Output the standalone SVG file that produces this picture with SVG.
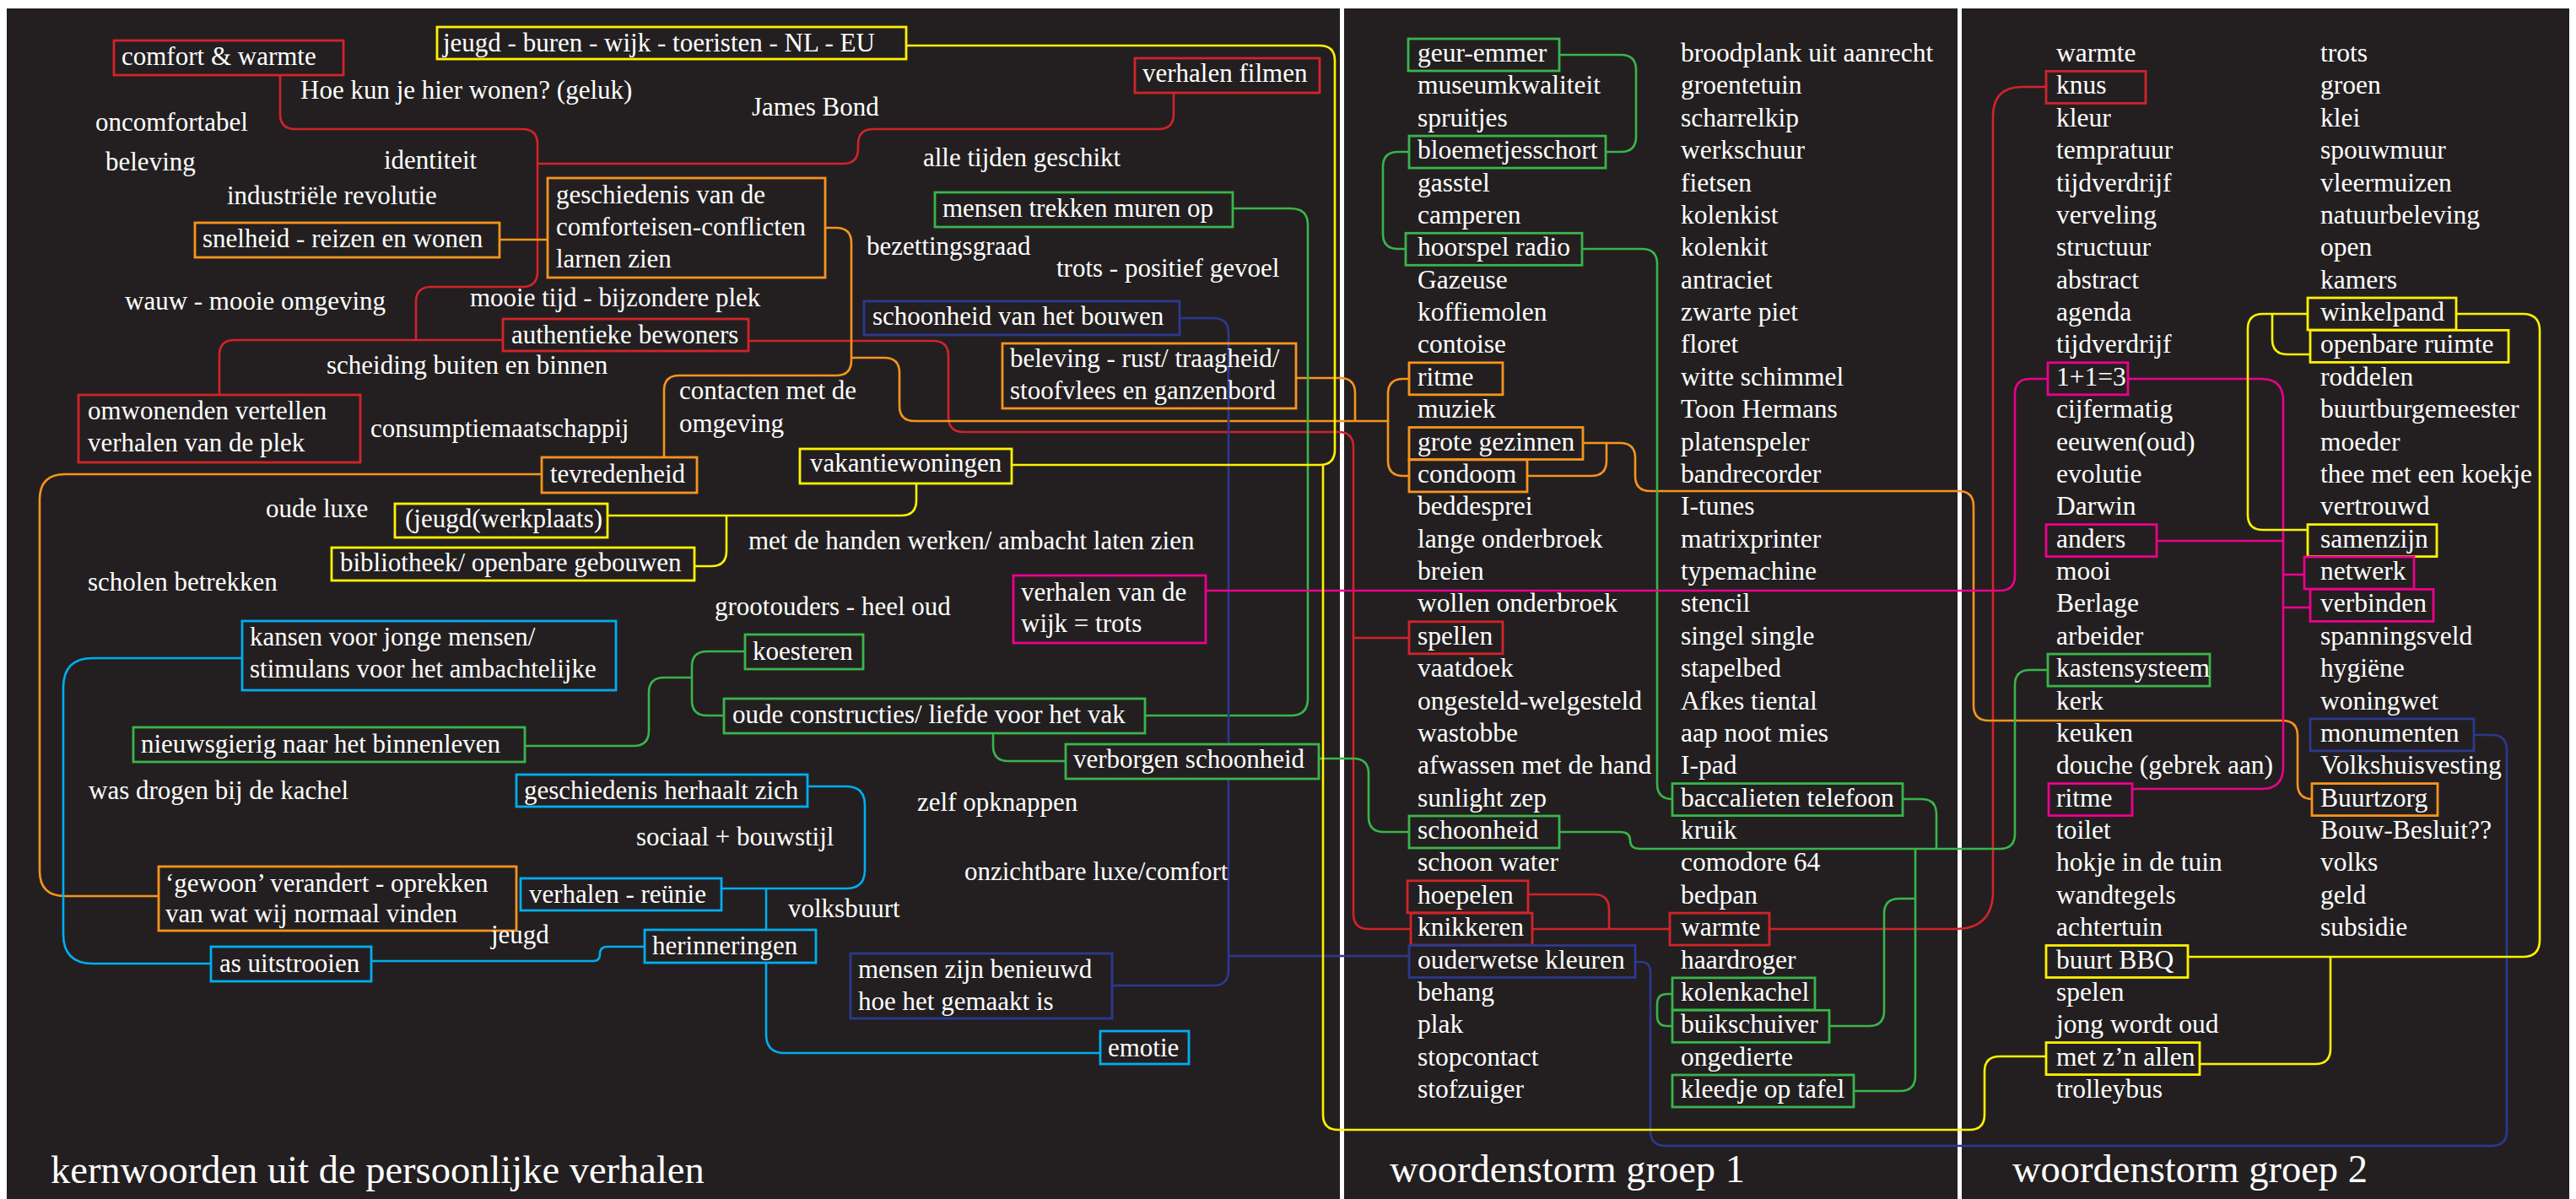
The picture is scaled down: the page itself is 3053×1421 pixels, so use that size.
<svg xmlns="http://www.w3.org/2000/svg" width="3053" height="1421" viewBox="0 0 3053 1421">
<style>
text{font-family:"Liberation Serif","Times New Roman",serif;fill:#ffffff}
.l{font-size:31px}
.w{font-size:31.5px}
.h{font-size:46.5px}
.bx{fill:#231f20;stroke-width:2.8}
.bn{fill:none;stroke-width:2.8}
.c{fill:none;stroke-width:2.6}
.red{stroke:#d2232a}.org{stroke:#f7941d}.yel{stroke:#fff200}.grn{stroke:#39b54a}.lbl{stroke:#00aeef}.dbl{stroke:#2b3990}.mag{stroke:#ec008c}
</style>
<rect x="0" y="0" width="3053" height="1421" fill="#ffffff"/>
<rect x="8" y="10" width="3037" height="1411" fill="#231f20"/>
<rect x="1588" y="10" width="5" height="1411" fill="#ffffff"/>
<rect x="2320" y="10" width="5" height="1411" fill="#ffffff"/>

<g id="connectors">
<!-- red -->
<path class="c red" d="M332,89 V135 Q332,153 350,153 H619 Q637,153 637,171 V322 Q637,340 619,340 H511 Q493,340 493,358 V403"/>
<path class="c red" d="M637,194 H999 Q1017,194 1017,176 V171 Q1017,153 1035,153 H1373 Q1391,153 1391,135 V110"/>
<path class="c red" d="M260,468 V421 Q260,403 278,403 H596"/>
<path class="c red" d="M887,404 H1106 Q1124,404 1124,422 V494 Q1124,512 1142,512 H1586 Q1604,512 1604,530 V1083 Q1604,1101 1622,1101 H1672"/>
<path class="c red" d="M1604,756 H1670"/>
<path class="c red" d="M1811,1060 H1889 Q1907,1060 1907,1078 V1101"/>
<path class="c red" d="M1816,1101 H1979"/>
<path class="c red" d="M2097,1101 H2317 Q2362,1101 2362,1056 V138 Q2362,103 2397,103 H2425"/>
<!-- orange -->
<path class="c org" d="M592,284 H649"/>
<path class="c org" d="M978,270 H991 Q1009,270 1009,288 V427 Q1009,445 991,445 H805 Q787,445 787,463 V542"/>
<path class="c org" d="M1009,424 H1048 Q1066,424 1066,442 V481 Q1066,499 1084,499 H1645"/>
<path class="c org" d="M1536,448 H1588 Q1606,448 1606,466 V499"/>
<path class="c org" d="M1670,449 H1663 Q1645,449 1645,467 V546 Q1645,564 1663,564 H1670"/>
<path class="c org" d="M1876,525 H1920 Q1938,525 1938,543 V564 Q1938,582 1956,582 H2321 Q2339,582 2339,600 V836 Q2339,854 2357,854 H2705 Q2723,854 2723,872 V929 Q2723,947 2741,947"/>
<path class="c org" d="M1904,525 V546 Q1904,564 1886,564 H1810"/>
<path class="c org" d="M642,562 H77 Q47,562 47,592 V1032 Q47,1062 77,1062 H188"/>
<!-- light blue -->
<path class="c lbl" d="M287,780 H110 Q75,780 75,815 V1107 Q75,1142 110,1142 H250"/>
<path class="c lbl" d="M440,1139 H703 Q711,1139 711,1131 Q711,1122 719,1122 H764"/>
<path class="c lbl" d="M957,932 H1003 Q1025,932 1025,954 V1031 Q1025,1053 1003,1053 H855"/>
<path class="c lbl" d="M908,1053 V1102"/>
<path class="c lbl" d="M908,1141 V1226 Q908,1248 930,1248 H1304"/>
<!-- green -->
<path class="c grn" d="M622,884 H751 Q769,884 769,866 V821 Q769,803 787,803 H820"/>
<path class="c grn" d="M883,772 H838 Q820,772 820,790 V830 Q820,848 838,848 H858"/>
<path class="c grn" d="M1357,848 H1530 Q1550,848 1550,828 V267 Q1550,247 1530,247 H1461"/>
<path class="c grn" d="M1177,869 V884 Q1177,902 1195,902 H1263"/>
<path class="c grn" d="M1563,899 H1604 Q1622,899 1622,917 V968 Q1622,986 1640,986 H1670"/>
<path class="c grn" d="M1848,65 H1921 Q1939,65 1939,83 V162 Q1939,180 1921,180 H1903"/>
<path class="c grn" d="M1670,180 H1657 Q1639,180 1639,198 V277 Q1639,295 1657,295 H1666"/>
<path class="c grn" d="M1875,295 H1946 Q1964,295 1964,313 V929 Q1964,947 1982,947"/>
<path class="c grn" d="M2255,947 H2277 Q2295,947 2295,965 V1006"/>
<path class="c grn" d="M1848,986 H1920 Q1932,986 1932,996 Q1932,1006 1944,1006 H2370 Q2388,1006 2388,988 V812 Q2388,794 2406,794 H2427"/>
<path class="c grn" d="M2270,1006 V1275 Q2270,1293 2252,1293 H2197"/>
<path class="c grn" d="M2270,1065 H2251 Q2233,1065 2233,1083 V1198 Q2233,1216 2215,1216 H2168"/>
<path class="c grn" d="M1982,1178 H1976 Q1964,1178 1964,1190 V1204 Q1964,1216 1976,1216 H1982"/>
<!-- dark blue -->
<path class="c dbl" d="M1398,377 H1438 Q1456,377 1456,395 V1150 Q1456,1168 1438,1168 H1318"/>
<path class="c dbl" d="M1456,1133 H1670"/>
<path class="c dbl" d="M1938,1140 H1944 Q1956,1140 1956,1152 V1340 Q1956,1358 1974,1358 H2953 Q2971,1358 2971,1340 V889 Q2971,871 2953,871 H2932"/>
<!-- magenta -->
<path class="c mag" d="M1429,700 H2370 Q2388,700 2388,682 V467 Q2388,449 2406,449 H2427"/>
<path class="c mag" d="M2522,449 H2680 Q2706,449 2706,475 V909 Q2706,935 2680,935 H2527"/>
<path class="c mag" d="M2556,641 H2706"/>
<path class="c mag" d="M2706,681 H2731"/>
<path class="c mag" d="M2706,720 H2738"/>
<!-- yellow -->
<path class="c yel" d="M1074,54 H1564 Q1582,54 1582,72 V533 Q1582,551 1564,551 H1199"/>
<path class="c yel" d="M1568,551 V1321 Q1568,1339 1586,1339 H2334 Q2352,1339 2352,1321 V1270 Q2352,1252 2370,1252 H2425"/>
<path class="c yel" d="M1086,573 V593 Q1086,611 1068,611 H720"/>
<path class="c yel" d="M861,611 V653 Q861,671 843,671 H823"/>
<path class="c yel" d="M2735,372 H2682 Q2664,372 2664,390 V610 Q2664,628 2682,628 H2735"/>
<path class="c yel" d="M2693,372 V402 Q2693,420 2711,420 H2738"/>
<path class="c yel" d="M2911,372 H2990 Q3010,372 3010,392 V1114 Q3010,1134 2990,1134 H2593"/>
<path class="c yel" d="M2762,1134 V1243 Q2762,1261 2744,1261 H2607"/>
</g>

<!-- ===== left panel boxed nodes ===== -->
<g id="n-comfort"><rect class="bx red" x="135" y="48" width="272" height="41"/><text class="l" x="144" y="77">comfort &amp; warmte</text></g>
<g id="n-jeugd-buren"><rect class="bx yel" x="518" y="32" width="556" height="38"/><text class="l" x="525" y="61">jeugd - buren - wijk - toeristen - NL - EU</text></g>
<g id="n-verhalen-filmen"><rect class="bx red" x="1345" y="69" width="219" height="41"/><text class="l" x="1354" y="97">verhalen filmen</text></g>
<g id="n-snelheid"><rect class="bx org" x="231" y="264" width="361" height="41"/><text class="l" x="240" y="293">snelheid - reizen en wonen</text></g>
<g id="n-geschiedenis"><rect class="bx org" x="649" y="211" width="329" height="118"/><text class="l" x="659" y="241">geschiedenis van de</text><text class="l" x="659" y="279">comforteisen-conflicten</text><text class="l" x="659" y="317">larnen zien</text></g>
<g id="n-mensen-trekken"><rect class="bx grn" x="1108" y="228" width="353" height="41"/><text class="l" x="1117" y="257">mensen trekken muren op</text></g>
<g id="n-schoonheid-bouwen"><rect class="bx dbl" x="1024" y="357" width="374" height="40"/><text class="l" x="1034" y="385">schoonheid van het bouwen</text></g>
<g id="n-authentieke"><rect class="bx red" x="596" y="378" width="291" height="38"/><text class="l" x="606" y="407">authentieke bewoners</text></g>
<g id="n-beleving-rust"><rect class="bn org" x="1188" y="407" width="348" height="77"/><text class="l" x="1197" y="435">beleving - rust/ traagheid/</text><text class="l" x="1197" y="473">stoofvlees en ganzenbord</text></g>
<g id="n-omwonenden"><rect class="bx red" x="93" y="468" width="334" height="80"/><text class="l" x="104" y="497">omwonenden vertellen</text><text class="l" x="104" y="535">verhalen van de plek</text></g>
<g id="n-tevredenheid"><rect class="bx org" x="642" y="542" width="184" height="42"/><text class="l" x="652" y="572">tevredenheid</text></g>
<g id="n-vakantiewoningen"><rect class="bx yel" x="948" y="532" width="251" height="41"/><text class="l" x="960" y="559">vakantiewoningen</text></g>
<g id="n-jeugdwerkplaats"><rect class="bx yel" x="468" y="597" width="252" height="40"/><text class="l" x="480" y="625">(jeugd(werkplaats)</text></g>
<g id="n-bibliotheek"><rect class="bx yel" x="393" y="649" width="430" height="39"/><text class="l" x="403" y="677">bibliotheek/ openbare gebouwen</text></g>
<g id="n-verhalen-wijk"><rect class="bx mag" x="1201" y="682" width="228" height="80"/><text class="l" x="1210" y="712">verhalen van de</text><text class="l" x="1210" y="749">wijk = trots</text></g>
<g id="n-kansen"><rect class="bx lbl" x="287" y="736" width="443" height="82"/><text class="l" x="296" y="765">kansen voor jonge mensen/</text><text class="l" x="296" y="803">stimulans voor het ambachtelijke</text></g>
<g id="n-koesteren"><rect class="bx grn" x="883" y="752" width="140" height="41"/><text class="l" x="892" y="782">koesteren</text></g>
<g id="n-oude-constructies"><rect class="bx grn" x="858" y="828" width="499" height="41"/><text class="l" x="868" y="857">oude constructies/ liefde voor het vak</text></g>
<g id="n-nieuwsgierig"><rect class="bx grn" x="158" y="862" width="464" height="41"/><text class="l" x="167" y="892">nieuwsgierig naar het binnenleven</text></g>
<g id="n-verborgen"><rect class="bx grn" x="1263" y="882" width="300" height="41"/><text class="l" x="1272" y="910">verborgen schoonheid</text></g>
<g id="n-geschiedenis-herhaalt"><rect class="bx lbl" x="612" y="918" width="345" height="38"/><text class="l" x="621" y="947">geschiedenis herhaalt zich</text></g>
<g id="n-gewoon"><rect class="bx org" x="188" y="1027" width="424" height="76"/><text class="l" x="196" y="1057">‘gewoon’ verandert - oprekken</text><text class="l" x="196" y="1093">van wat wij normaal vinden</text></g>
<g id="n-reunie"><rect class="bx lbl" x="617" y="1041" width="238" height="38"/><text class="l" x="627" y="1070">verhalen - reünie</text></g>
<g id="n-herinneringen"><rect class="bx lbl" x="764" y="1102" width="203" height="39"/><text class="l" x="773" y="1131">herinneringen</text></g>
<g id="n-as"><rect class="bx lbl" x="250" y="1122" width="190" height="41"/><text class="l" x="260" y="1152">as uitstrooien</text></g>
<g id="n-benieuwd"><rect class="bx dbl" x="1008" y="1130" width="310" height="77"/><text class="l" x="1017" y="1159">mensen zijn benieuwd</text><text class="l" x="1017" y="1197">hoe het gemaakt is</text></g>
<g id="n-emotie"><rect class="bx lbl" x="1304" y="1222" width="105" height="39"/><text class="l" x="1313" y="1252">emotie</text></g>

<!-- ===== left panel words ===== -->
<g id="words-left">
<text class="l" x="356" y="117">Hoe kun je hier wonen? (geluk)</text>
<text class="l" x="113" y="155">oncomfortabel</text>
<text class="l" x="891" y="137">James Bond</text>
<text class="l" x="125" y="202">beleving</text>
<text class="l" x="455" y="200">identiteit</text>
<text class="l" x="1094" y="197">alle tijden geschikt</text>
<text class="l" x="269" y="242">industriële revolutie</text>
<text class="l" x="1027" y="302">bezettingsgraad</text>
<text class="l" x="1252" y="328">trots - positief gevoel</text>
<text class="l" x="148" y="367">wauw - mooie omgeving</text>
<text class="l" x="557" y="363">mooie tijd - bijzondere plek</text>
<text class="l" x="387" y="443">scheiding buiten en binnen</text>
<text class="l" x="805" y="473">contacten met de</text>
<text class="l" x="805" y="512">omgeving</text>
<text class="l" x="439" y="518">consumptiemaatschappij</text>
<text class="l" x="315" y="613">oude luxe</text>
<text class="l" x="887" y="651">met de handen werken/ ambacht laten zien</text>
<text class="l" x="104" y="700">scholen betrekken</text>
<text class="l" x="847" y="729">grootouders - heel oud</text>
<text class="l" x="105" y="947">was drogen bij de kachel</text>
<text class="l" x="1087" y="961">zelf opknappen</text>
<text class="l" x="754" y="1002">sociaal + bouwstijl</text>
<text class="l" x="1143" y="1043">onzichtbare luxe/comfort</text>
<text class="l" x="934" y="1087">volksbuurt</text>
<text class="l" x="582" y="1118">jeugd</text>
</g>

<!-- ===== middle panel boxed nodes ===== -->
<g id="n-geur-emmer"><rect class="bx grn" x="1669" y="46" width="179" height="38"/><text class="w" x="1680" y="73">geur-emmer</text></g>
<g id="n-bloemetjesschort"><rect class="bx grn" x="1670" y="161.1" width="233" height="38"/><text class="w" x="1680" y="188.1">bloemetjesschort</text></g>
<g id="n-hoorspel"><rect class="bx grn" x="1666" y="276.3" width="209" height="38"/><text class="w" x="1680" y="303.3">hoorspel radio</text></g>
<g id="n-ritme1"><rect class="bx org" x="1670" y="429.8" width="111" height="38"/><text class="w" x="1680" y="456.8">ritme</text></g>
<g id="n-grote-gezinnen"><rect class="bx org" x="1670" y="506.5" width="206" height="38"/><text class="w" x="1680" y="533.5">grote gezinnen</text></g>
<g id="n-condoom"><rect class="bx org" x="1670" y="544.9" width="140" height="38"/><text class="w" x="1680" y="571.9">condoom</text></g>
<g id="n-spellen"><rect class="bx red" x="1670" y="736.8" width="111" height="38"/><text class="w" x="1680" y="763.8">spellen</text></g>
<g id="n-schoonheid"><rect class="bx grn" x="1670" y="967" width="178" height="38"/><text class="w" x="1680" y="994">schoonheid</text></g>
<g id="n-hoepelen"><rect class="bx red" x="1668" y="1043.8" width="143" height="38"/><text class="w" x="1680" y="1070.8">hoepelen</text></g>
<g id="n-knikkeren"><rect class="bx red" x="1672" y="1082.1" width="144" height="38"/><text class="w" x="1680" y="1109.1">knikkeren</text></g>
<g id="n-ouderwetse"><rect class="bx dbl" x="1670" y="1120.5" width="268" height="38"/><text class="w" x="1680" y="1147.5">ouderwetse kleuren</text></g>
<g id="n-baccalieten"><rect class="bx grn" x="1982" y="928.6" width="273" height="38"/><text class="w" x="1992" y="955.6">baccalieten telefoon</text></g>
<g id="n-warmte1"><rect class="bx red" x="1979" y="1082.1" width="118" height="38"/><text class="w" x="1992" y="1109.1">warmte</text></g>
<g id="n-kolenkachel"><rect class="bx grn" x="1982" y="1158.9" width="169" height="38"/><text class="w" x="1992" y="1185.9">kolenkachel</text></g>
<g id="n-buikschuiver"><rect class="bx grn" x="1982" y="1197.3" width="186" height="38"/><text class="w" x="1992" y="1224.3">buikschuiver</text></g>
<g id="n-kleedje"><rect class="bx grn" x="1982" y="1274" width="215" height="38"/><text class="w" x="1992" y="1301">kleedje op tafel</text></g>

<g id="words-group1">
<text class="w" x="1680" y="111.4">museumkwaliteit</text>
<text class="w" x="1680" y="149.8">spruitjes</text>
<text class="w" x="1680" y="226.5">gasstel</text>
<text class="w" x="1680" y="264.9">camperen</text>
<text class="w" x="1680" y="341.6">Gazeuse</text>
<text class="w" x="1680" y="380">koffiemolen</text>
<text class="w" x="1680" y="418.4">contoise</text>
<text class="w" x="1680" y="495.1">muziek</text>
<text class="w" x="1680" y="610.3">beddesprei</text>
<text class="w" x="1680" y="648.6">lange onderbroek</text>
<text class="w" x="1680" y="687">breien</text>
<text class="w" x="1680" y="725.4">wollen onderbroek</text>
<text class="w" x="1680" y="802.1">vaatdoek</text>
<text class="w" x="1680" y="840.5">ongesteld-welgesteld</text>
<text class="w" x="1680" y="878.9">wastobbe</text>
<text class="w" x="1680" y="917.3">afwassen met de hand</text>
<text class="w" x="1680" y="955.6">sunlight zep</text>
<text class="w" x="1680" y="1032.4">schoon water</text>
<text class="w" x="1680" y="1185.9">behang</text>
<text class="w" x="1680" y="1224.3">plak</text>
<text class="w" x="1680" y="1262.6">stopcontact</text>
<text class="w" x="1680" y="1301">stofzuiger</text>
<text class="w" x="1992" y="73">broodplank uit aanrecht</text>
<text class="w" x="1992" y="111.4">groentetuin</text>
<text class="w" x="1992" y="149.8">scharrelkip</text>
<text class="w" x="1992" y="188.1">werkschuur</text>
<text class="w" x="1992" y="226.5">fietsen</text>
<text class="w" x="1992" y="264.9">kolenkist</text>
<text class="w" x="1992" y="303.3">kolenkit</text>
<text class="w" x="1992" y="341.6">antraciet</text>
<text class="w" x="1992" y="380">zwarte piet</text>
<text class="w" x="1992" y="418.4">floret</text>
<text class="w" x="1992" y="456.8">witte schimmel</text>
<text class="w" x="1992" y="495.1">Toon Hermans</text>
<text class="w" x="1992" y="533.5">platenspeler</text>
<text class="w" x="1992" y="571.9">bandrecorder</text>
<text class="w" x="1992" y="610.3">I-tunes</text>
<text class="w" x="1992" y="648.6">matrixprinter</text>
<text class="w" x="1992" y="687">typemachine</text>
<text class="w" x="1992" y="725.4">stencil</text>
<text class="w" x="1992" y="763.8">singel single</text>
<text class="w" x="1992" y="802.1">stapelbed</text>
<text class="w" x="1992" y="840.5">Afkes tiental</text>
<text class="w" x="1992" y="878.9">aap noot mies</text>
<text class="w" x="1992" y="917.3">I-pad</text>
<text class="w" x="1992" y="994">kruik</text>
<text class="w" x="1992" y="1032.4">comodore 64</text>
<text class="w" x="1992" y="1070.8">bedpan</text>
<text class="w" x="1992" y="1147.5">haardroger</text>
<text class="w" x="1992" y="1262.6">ongedierte</text>
</g>

<!-- ===== right panel boxed nodes ===== -->
<g id="n-knus"><rect class="bx red" x="2425" y="84.4" width="118" height="38"/><text class="w" x="2437" y="111.4">knus</text></g>
<g id="n-1plus1"><rect class="bx mag" x="2427" y="429.8" width="95" height="38"/><text class="w" x="2437" y="456.8">1+1=3</text></g>
<g id="n-anders"><rect class="bx mag" x="2425" y="621.6" width="131" height="38"/><text class="w" x="2437" y="648.6">anders</text></g>
<g id="n-kastensysteem"><rect class="bx grn" x="2427" y="775.1" width="192" height="38"/><text class="w" x="2437" y="802.1">kastensysteem</text></g>
<g id="n-ritme2"><rect class="bx mag" x="2428" y="928.6" width="99" height="38"/><text class="w" x="2437" y="955.6">ritme</text></g>
<g id="n-buurt-bbq"><rect class="bx yel" x="2425" y="1120.5" width="168" height="38"/><text class="w" x="2437" y="1147.5">buurt BBQ</text></g>
<g id="n-met-zn-allen"><rect class="bx yel" x="2425" y="1235.6" width="182" height="38"/><text class="w" x="2437" y="1262.6">met z’n allen</text></g>
<g id="n-winkelpand"><rect class="bx yel" x="2735" y="353" width="176" height="38"/><text class="w" x="2750" y="380">winkelpand</text></g>
<g id="n-openbare-ruimte"><rect class="bx yel" x="2738" y="391.4" width="235" height="38"/><text class="w" x="2750" y="418.4">openbare ruimte</text></g>
<g id="n-samenzijn"><rect class="bx yel" x="2735" y="621.6" width="153" height="38"/><text class="w" x="2750" y="648.6">samenzijn</text></g>
<g id="n-netwerk"><rect class="bx mag" x="2731" y="660" width="130" height="38"/><text class="w" x="2750" y="687">netwerk</text></g>
<g id="n-verbinden"><rect class="bx mag" x="2738" y="698.4" width="146" height="38"/><text class="w" x="2750" y="725.4">verbinden</text></g>
<g id="n-monumenten"><rect class="bx dbl" x="2738" y="851.9" width="194" height="38"/><text class="w" x="2750" y="878.9">monumenten</text></g>
<g id="n-buurtzorg"><rect class="bx org" x="2740" y="928.6" width="149" height="38"/><text class="w" x="2750" y="955.6">Buurtzorg</text></g>

<g id="words-group2">
<text class="w" x="2437" y="73">warmte</text>
<text class="w" x="2437" y="149.8">kleur</text>
<text class="w" x="2437" y="188.1">tempratuur</text>
<text class="w" x="2437" y="226.5">tijdverdrijf</text>
<text class="w" x="2437" y="264.9">verveling</text>
<text class="w" x="2437" y="303.3">structuur</text>
<text class="w" x="2437" y="341.6">abstract</text>
<text class="w" x="2437" y="380">agenda</text>
<text class="w" x="2437" y="418.4">tijdverdrijf</text>
<text class="w" x="2437" y="495.1">cijfermatig</text>
<text class="w" x="2437" y="533.5">eeuwen(oud)</text>
<text class="w" x="2437" y="571.9">evolutie</text>
<text class="w" x="2437" y="610.3">Darwin</text>
<text class="w" x="2437" y="687">mooi</text>
<text class="w" x="2437" y="725.4">Berlage</text>
<text class="w" x="2437" y="763.8">arbeider</text>
<text class="w" x="2437" y="840.5">kerk</text>
<text class="w" x="2437" y="878.9">keuken</text>
<text class="w" x="2437" y="917.3">douche (gebrek aan)</text>
<text class="w" x="2437" y="994">toilet</text>
<text class="w" x="2437" y="1032.4">hokje in de tuin</text>
<text class="w" x="2437" y="1070.8">wandtegels</text>
<text class="w" x="2437" y="1109.1">achtertuin</text>
<text class="w" x="2437" y="1185.9">spelen</text>
<text class="w" x="2437" y="1224.3">jong wordt oud</text>
<text class="w" x="2437" y="1301">trolleybus</text>
<text class="w" x="2750" y="73">trots</text>
<text class="w" x="2750" y="111.4">groen</text>
<text class="w" x="2750" y="149.8">klei</text>
<text class="w" x="2750" y="188.1">spouwmuur</text>
<text class="w" x="2750" y="226.5">vleermuizen</text>
<text class="w" x="2750" y="264.9">natuurbeleving</text>
<text class="w" x="2750" y="303.3">open</text>
<text class="w" x="2750" y="341.6">kamers</text>
<text class="w" x="2750" y="456.8">roddelen</text>
<text class="w" x="2750" y="495.1">buurtburgemeester</text>
<text class="w" x="2750" y="533.5">moeder</text>
<text class="w" x="2750" y="571.9">thee met een koekje</text>
<text class="w" x="2750" y="610.3">vertrouwd</text>
<text class="w" x="2750" y="763.8">spanningsveld</text>
<text class="w" x="2750" y="802.1">hygiëne</text>
<text class="w" x="2750" y="840.5">woningwet</text>
<text class="w" x="2750" y="917.3">Volkshuisvesting</text>
<text class="w" x="2750" y="994">Bouw-Besluit??</text>
<text class="w" x="2750" y="1032.4">volks</text>
<text class="w" x="2750" y="1070.8">geld</text>
<text class="w" x="2750" y="1109.1">subsidie</text>
</g>

<g id="titles">
<text class="h" x="60" y="1402">kernwoorden uit de persoonlijke verhalen</text>
<text class="h" x="1647" y="1401">woordenstorm groep 1</text>
<text class="h" x="2385" y="1401">woordenstorm groep 2</text>
</g>
</svg>
